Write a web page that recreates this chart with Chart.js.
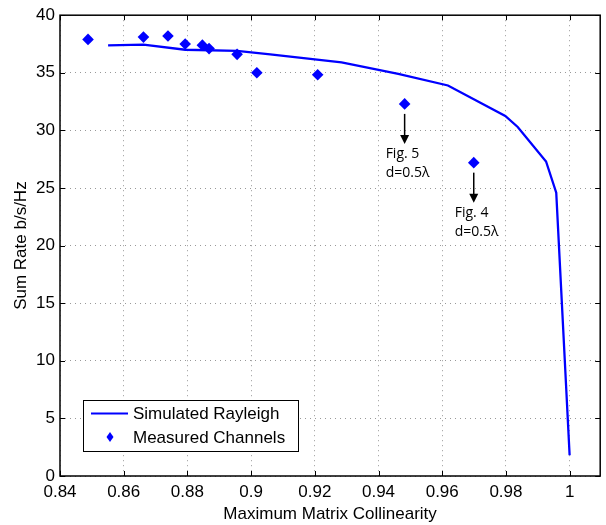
<!DOCTYPE html>
<html>
<head>
<meta charset="utf-8">
<script src="https://cdn.jsdelivr.net/npm/chart.js@4/dist/chart.umd.min.js"></script>
<style>
  html, body { margin: 0; padding: 0; background: #fff; }
  #wrap { width: 606px; height: 525px; }
</style>
</head>
<body>
<div id="wrap"><canvas id="chart" width="606" height="525"></canvas></div>
<script>
// ---- data ----
const simX = [0.8551, 0.8662, 0.8793, 0.8956, 0.9060, 0.9284, 0.9462, 0.9618, 0.9798, 0.9837, 0.9926, 0.9958, 1.0];
const simY = [37.38, 37.45, 37.0, 36.9, 36.6, 35.9, 34.9, 33.9, 31.25, 30.3, 27.3, 24.6, 1.8];

const measX = [0.8488, 0.8662, 0.8739, 0.8793, 0.8847, 0.8868, 0.8956, 0.9018, 0.9209, 0.9482, 0.9699];
const measY = [37.9, 38.1, 38.2, 37.5, 37.4, 37.1, 36.6, 35.0, 34.83, 32.3, 27.2];

const xTicks = [0.84, 0.86, 0.88, 0.9, 0.92, 0.94, 0.96, 0.98, 1.0];
const yTicks = [0, 5, 10, 15, 20, 25, 30, 35, 40];

// annotated measurements (index into measX/measY) and their text
const noteIdx = [9, 10];
const noteText = [['Fig. 5', 'd=0.5\u03bb'], ['Fig. 4', 'd=0.5\u03bb']];

const BLUE = '#0000ff';
const FONT = '"Liberation Sans", Arial, sans-serif';

// MATLAB-style box with inward tick marks
const boxPlugin = {
  id: 'box',
  afterDraw(chart) {
    const { ctx, chartArea: a, scales } = chart;
    ctx.save();
    ctx.strokeStyle = '#000';
    ctx.lineWidth = 1.5;
    ctx.strokeRect(a.left, a.top, a.right - a.left, a.bottom - a.top);
    ctx.lineWidth = 1;
    ctx.beginPath();
    xTicks.forEach(v => {
      const px = Math.round(scales.x.getPixelForValue(v)) + 0.5;
      ctx.moveTo(px, a.bottom); ctx.lineTo(px, a.bottom - 5);
      ctx.moveTo(px, a.top); ctx.lineTo(px, a.top + 5);
    });
    yTicks.forEach(v => {
      const py = Math.round(scales.y.getPixelForValue(v)) + 0.5;
      ctx.moveTo(a.left, py); ctx.lineTo(a.left + 5, py);
      ctx.moveTo(a.right, py); ctx.lineTo(a.right - 5, py);
    });
    ctx.stroke();
    ctx.restore();
  }
};

// arrows + text under the two marked points
const notePlugin = {
  id: 'notes',
  afterDatasetsDraw(chart) {
    const { ctx, scales } = chart;
    ctx.save();
    noteIdx.forEach((idx, k) => {
      const px = scales.x.getPixelForValue(measX[idx]);
      const py = scales.y.getPixelForValue(measY[idx]);
      ctx.strokeStyle = '#000';
      ctx.fillStyle = '#000';
      ctx.lineWidth = 1.5;
      ctx.beginPath();
      ctx.moveTo(px, py + 10);
      ctx.lineTo(px, py + 34);
      ctx.stroke();
      ctx.beginPath();
      ctx.moveTo(px - 4.5, py + 31);
      ctx.lineTo(px + 4.5, py + 31);
      ctx.lineTo(px, py + 40);
      ctx.closePath();
      ctx.fill();
      ctx.font = '14px "Open Sans", sans-serif';
      ctx.textBaseline = 'middle';
      ctx.textAlign = 'left';
      noteText[k].forEach((t, i) => ctx.fillText(t, px - 19, py + 50 + i * 19));
    });
    ctx.restore();
  }
};

// legend box in the lower-left corner of the plot
const legendPlugin = {
  id: 'boxLegend',
  afterDraw(chart) {
    const { ctx, chartArea: a } = chart;
    const ds = chart.data.datasets;
    const x0 = a.left + 23, y0 = a.bottom - 76, w = 215, h = 51;
    ctx.save();
    ctx.fillStyle = '#fff';
    ctx.fillRect(x0, y0, w, h);
    ctx.strokeStyle = '#000';
    ctx.lineWidth = 1;
    ctx.strokeRect(x0 + 0.5, y0 + 0.5, w, h);
    // line sample
    ctx.strokeStyle = ds[0].borderColor;
    ctx.lineWidth = 2;
    ctx.beginPath();
    ctx.moveTo(x0 + 8, y0 + 13.5);
    ctx.lineTo(x0 + 45, y0 + 13.5);
    ctx.stroke();
    // marker sample
    ctx.fillStyle = ds[1].backgroundColor;
    ctx.beginPath();
    const cx = x0 + 27, cy = y0 + 37;
    ctx.moveTo(cx, cy - 5); ctx.lineTo(cx + 3.5, cy); ctx.lineTo(cx, cy + 5); ctx.lineTo(cx - 3.5, cy);
    ctx.closePath();
    ctx.fill();
    ctx.fillStyle = '#000';
    ctx.font = '17px ' + FONT;
    ctx.textBaseline = 'middle';
    ctx.fillText(ds[0].label, x0 + 50, y0 + 14);
    ctx.fillText(ds[1].label, x0 + 50, y0 + 38);
    ctx.restore();
  }
};

new Chart(document.getElementById('chart'), {
  type: 'scatter',
  data: {
    datasets: [
      {
        label: 'Simulated Rayleigh',
        data: simX.map((x, i) => ({ x, y: simY[i] })),
        showLine: true,
        borderColor: BLUE,
        borderWidth: 2.3,
        pointRadius: 0,
        tension: 0
      },
      {
        label: 'Measured Channels',
        data: measX.map((x, i) => ({ x, y: measY[i] })),
        showLine: false,
        pointStyle: 'rectRot',
        pointRadius: 5.8,
        backgroundColor: BLUE,
        borderColor: BLUE,
        borderWidth: 0
      }
    ]
  },
  options: {
    responsive: false,
    animation: false,
    layout: { padding: { top: 13, right: 3, left: 0, bottom: 0 } },
    plugins: { legend: { display: false }, tooltip: { enabled: false } },
    scales: {
      x: {
        type: 'linear',
        min: 0.84,
        max: 1.0096,
        afterBuildTicks: s => { s.ticks = xTicks.map(v => ({ value: v })); },
        afterFit: s => { s.height = 49; },
        grid: { color: '#999', lineWidth: 1, drawTicks: false },
        border: { display: false, dash: [1, 4] },
        ticks: {
          color: '#000',
          font: { family: FONT, size: 17 },
          padding: 6,
          maxRotation: 0,
          callback: v => String(+v.toFixed(2))
        },
        title: {
          display: true,
          text: 'Maximum Matrix Collinearity',
          color: '#000',
          font: { family: FONT, size: 17 },
          padding: { top: 0, bottom: 0 }
        }
      },
      y: {
        type: 'linear',
        min: 0,
        max: 40,
        afterBuildTicks: s => { s.ticks = yTicks.map(v => ({ value: v })); },
        afterFit: s => { s.width = 60; },
        grid: { color: '#999', lineWidth: 1, drawTicks: false },
        border: { display: false, dash: [1, 4] },
        ticks: {
          color: '#000',
          font: { family: FONT, size: 17 },
          padding: 5
        },
        title: {
          display: true,
          text: 'Sum Rate b/s/Hz',
          color: '#000',
          font: { family: FONT, size: 17 },
          padding: { top: 11, bottom: 0 }
        }
      }
    }
  },
  plugins: [boxPlugin, notePlugin, legendPlugin]
});
</script>
</body>
</html>
